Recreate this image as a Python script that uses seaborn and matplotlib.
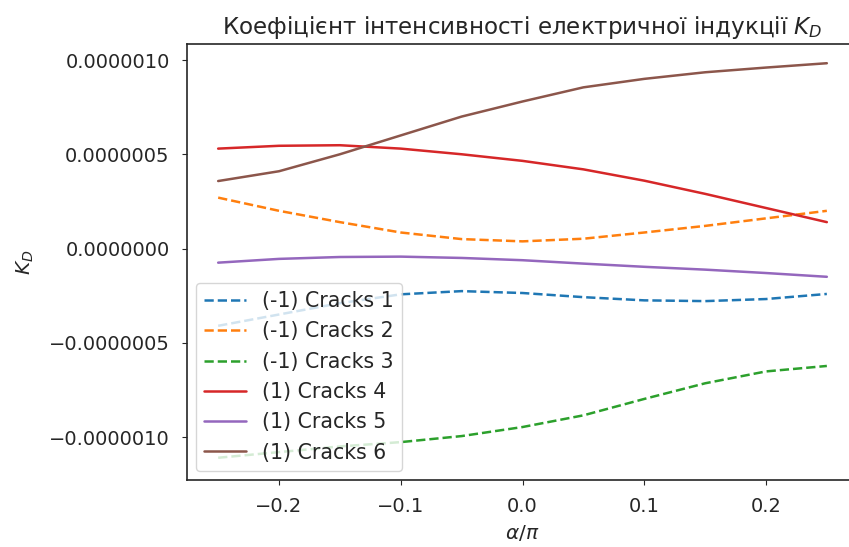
import numpy as np
import pandas as pd
import matplotlib
matplotlib.use("Agg")
import matplotlib.pyplot as plt
import seaborn as sns

# angle α/π
alpha = [-0.25, -0.20, -0.15, -0.10, -0.05, 0.00, 0.05, 0.10, 0.15, 0.20, 0.25]

# K_D values, units of 1e-6
cracks_1 = [-0.41, -0.35, -0.29, -0.243, -0.226, -0.236, -0.258, -0.275, -0.279, -0.268, -0.241]
cracks_2 = [0.27, 0.20, 0.14, 0.085, 0.050, 0.038, 0.052, 0.085, 0.120, 0.160, 0.200]
cracks_3 = [-1.11, -1.08, -1.05, -1.027, -0.995, -0.947, -0.885, -0.798, -0.715, -0.652, -0.623]
cracks_4 = [0.530, 0.545, 0.548, 0.530, 0.500, 0.465, 0.420, 0.360, 0.290, 0.215, 0.140]
cracks_5 = [-0.075, -0.055, -0.045, -0.043, -0.050, -0.062, -0.080, -0.097, -0.112, -0.130, -0.150]
cracks_6 = [0.358, 0.410, 0.500, 0.600, 0.700, 0.780, 0.855, 0.900, 0.935, 0.960, 0.983]

labels = ["(-1) Cracks 1", "(-1) Cracks 2", "(-1) Cracks 3",
          "(1) Cracks 4", "(1) Cracks 5", "(1) Cracks 6"]
series = [cracks_1, cracks_2, cracks_3, cracks_4, cracks_5, cracks_6]
styles = ["--", "--", "--", "-", "-", "-"]

sns.set_style("ticks")
plt.rcParams["font.family"] = ["DejaVu Sans"]
plt.rcParams["mathtext.fontset"] = "dejavusans"

palette = sns.color_palette("tab10", 6)

fig = plt.figure(figsize=(8.49, 5.47), dpi=100)
ax = fig.add_axes([187 / 849, 67 / 547, 671 / 849, 436 / 547])

for vals, lab, ls, col in zip(series, labels, styles, palette):
    df = pd.DataFrame({"alpha": alpha, "K": np.array(vals) * 1e-6})
    sns.lineplot(data=df, x="alpha", y="K", ax=ax, label=lab, color=col,
                 linestyle=ls, linewidth=1.8)

ax.set_xlim(-0.2756, 0.2756)
ax.set_ylim(-1.228e-6, 1.085e-6)
ax.set_xticks([-0.2, -0.1, 0.0, 0.1, 0.2])
ax.set_yticks([-1e-6, -0.5e-6, 0.0, 0.5e-6, 1e-6])
ax.ticklabel_format(axis="y", style="plain", useOffset=False)
ax.tick_params(axis="y", labelsize=14, pad=9)
ax.tick_params(axis="x", labelsize=14, pad=9)

ax.set_title("Коефіцієнт інтенсивності електричної індукції $K_D$", fontsize=16.6, pad=7)
ax.set_xlabel(r"$\alpha/\pi$", fontsize=14.5, labelpad=5)
ax.set_ylabel(r"$K_D$", fontsize=14.5, labelpad=9)
for s in ax.spines.values():
    s.set_linewidth(1.2)

ax.legend(loc="lower left", fontsize=14.8, frameon=True, borderaxespad=0.45)

fig.savefig("out.png", dpi=100)
